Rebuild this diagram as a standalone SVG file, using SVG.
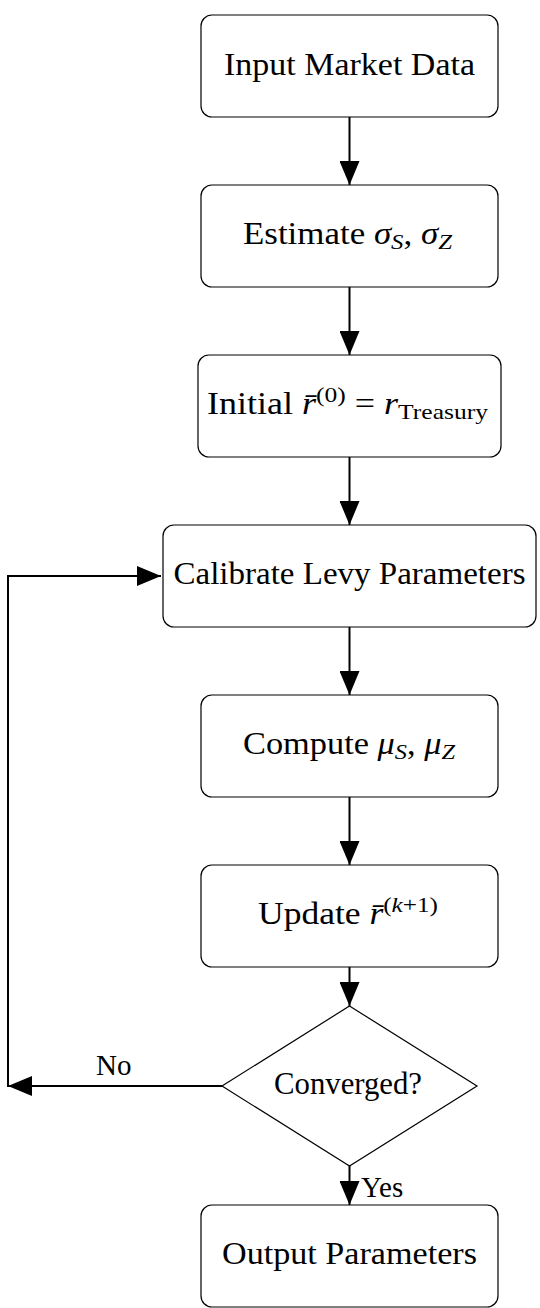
<svg xmlns="http://www.w3.org/2000/svg" width="540" height="1308" viewBox="0 0 540 1308">
<style>
.box{fill:#fff;stroke:#000;stroke-width:1.2}
.t{font-family:"Liberation Serif","Times New Roman",serif;font-size:31px;fill:#000;text-anchor:middle}
.lbl{font-family:"Liberation Serif","Times New Roman",serif;font-size:29px;fill:#000}
.i{font-style:italic}
.s{font-size:22px}
.c{fill:none;stroke:#000;stroke-width:2}
</style>
<defs>
<marker id="ah" markerUnits="userSpaceOnUse" markerWidth="24" markerHeight="20" refX="24" refY="10" orient="auto">
<path d="M0,0 L24,10 L0,20 z" fill="#000"/>
</marker>
</defs>
<rect width="540" height="1308" fill="#fff"/>
<g id="connectors">
<line class="c" x1="349.5" y1="117" x2="349.5" y2="185" marker-end="url(#ah)"/>
<line class="c" x1="349.5" y1="287" x2="349.5" y2="355" marker-end="url(#ah)"/>
<line class="c" x1="349.5" y1="457" x2="349.5" y2="525" marker-end="url(#ah)"/>
<line class="c" x1="349.5" y1="627" x2="349.5" y2="695" marker-end="url(#ah)"/>
<line class="c" x1="349.5" y1="797" x2="349.5" y2="865" marker-end="url(#ah)"/>
<line class="c" x1="349.5" y1="967" x2="349.5" y2="1006" marker-end="url(#ah)"/>
<line class="c" x1="349.5" y1="1166" x2="349.5" y2="1205" marker-end="url(#ah)"/>
<line class="c" x1="222" y1="1086" x2="8" y2="1086" marker-end="url(#ah)"/>
<path class="c" d="M8,1087 L8,576 L161,576" marker-end="url(#ah)"/>
<text class="lbl" x="96" y="1075">No</text>
<text class="lbl" x="361" y="1197">Yes</text>
</g>
<g id="n1">
<rect class="box" x="201" y="15" width="297" height="102" rx="11"/>
<text class="t" x="349.5" y="75" textLength="251" lengthAdjust="spacingAndGlyphs">Input Market Data</text>
</g>
<g id="n2">
<rect class="box" x="201" y="185" width="297" height="102" rx="11"/>
<text class="t" x="347.5" y="244" textLength="209" lengthAdjust="spacingAndGlyphs">Estimate <tspan class="i">σ</tspan><tspan class="i s" dy="5">S</tspan><tspan dy="-5">, </tspan><tspan class="i">σ</tspan><tspan class="i s" dy="5">Z</tspan></text>
</g>
<g id="n3">
<rect class="box" x="198" y="355" width="303" height="102" rx="11"/>
<text class="t" x="347.5" y="414" textLength="281" lengthAdjust="spacingAndGlyphs">Initial <tspan class="i">r̄</tspan><tspan class="s" dy="-12">(0)</tspan><tspan dy="12"> = </tspan><tspan class="i">r</tspan><tspan class="s" dy="5">Treasury</tspan></text>
</g>
<g id="n4">
<rect class="box" x="163" y="525" width="373" height="102" rx="11"/>
<text class="t" x="349.5" y="584" textLength="352" lengthAdjust="spacingAndGlyphs">Calibrate Levy Parameters</text>
</g>
<g id="n5">
<rect class="box" x="201" y="695" width="297" height="102" rx="11"/>
<text class="t" x="349" y="754" textLength="212" lengthAdjust="spacingAndGlyphs">Compute <tspan class="i">μ</tspan><tspan class="i s" dy="5">S</tspan><tspan dy="-5">, </tspan><tspan class="i">μ</tspan><tspan class="i s" dy="5">Z</tspan></text>
</g>
<g id="n6">
<rect class="box" x="201" y="865" width="297" height="102" rx="11"/>
<text class="t" x="348" y="924" textLength="180" lengthAdjust="spacingAndGlyphs">Update <tspan class="i">r̄</tspan><tspan class="s" dy="-12">(<tspan class="i">k</tspan>+1)</tspan></text>
</g>
<g id="n7">
<polygon class="box" points="349.5,1006 477,1086 349.5,1166 222,1086"/>
<text class="t" x="348" y="1094" textLength="148" lengthAdjust="spacingAndGlyphs">Converged?</text>
</g>
<g id="n8">
<rect class="box" x="201" y="1205" width="297" height="102" rx="11"/>
<text class="t" x="349.5" y="1264" textLength="255" lengthAdjust="spacingAndGlyphs">Output Parameters</text>
</g>
</svg>
